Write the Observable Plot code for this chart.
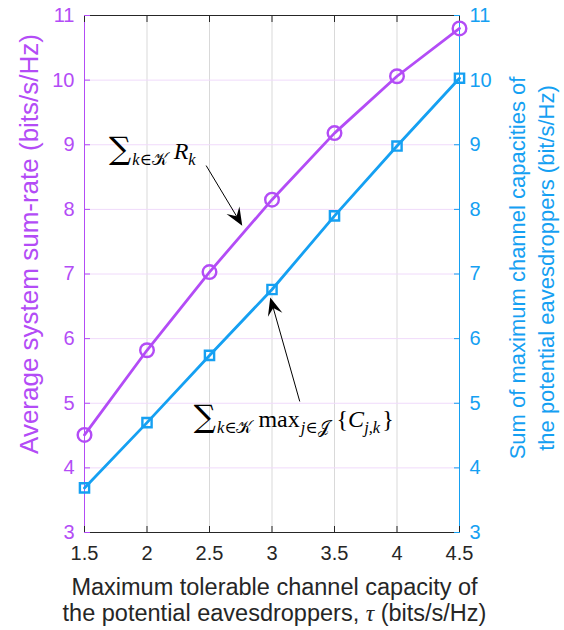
<!DOCTYPE html>
<html><head><meta charset="utf-8">
<script src="https://cdn.jsdelivr.net/npm/d3@7"></script>
<script src="https://cdn.jsdelivr.net/npm/@observablehq/plot@0.6"></script>
<style>body{margin:0;background:#fff}#chart{width:564px;height:630px}</style>
</head><body><div id="chart"></div>
<script>
// ---- data ----
const tau = [1.5, 2, 2.5, 3, 3.5, 4, 4.5];
const sumRate = [4.51, 5.82, 7.03, 8.15, 9.18, 10.06, 10.80];
const sumCap = [3.69, 4.70, 5.74, 6.76, 7.90, 8.98, 10.03];
const xTicks = [1.5, 2, 2.5, 3, 3.5, 4, 4.5];
const yTicks = [3, 4, 5, 6, 7, 8, 9, 10, 11];
const xLabel = ["Maximum tolerable channel capacity of", "the potential eavesdroppers, ", "τ", " (bits/s/Hz)"];
const yLeftLabel = "Average system sum-rate (bits/s/Hz)";
const yRightLabel = ["Sum of maximum channel capacities of", "the potential eavesdroppers (bit/s/Hz)"];
// annotation anchors (data units): label start, arrow tail, arrow tip
const annLabelX = [1.70, 2.378];
const annLabelY = [8.77, 4.62];
const annTailX = [2.477, 3.226];
const annTailY = [8.67, 5.02];
const annTipX = [2.766, 2.99];
const annTipY = [7.74, 6.63];

const purple = "#b34cf6", blue = "#15a0f2", dark = "#262626";
const rows = tau.map((t, i) => ({tau: t, rate: sumRate[i], cap: sumCap[i]}));

function arrowHead(g, p1, p2) {
  const dx = p2[0] - p1[0], dy = p2[1] - p1[1], len = Math.hypot(dx, dy);
  const ux = dx / len, uy = dy / len, nx = -uy, ny = ux;
  const L = 18, W = 7.5, N = 11;
  const notch = [p2[0] - N * ux, p2[1] - N * uy];
  g.append("line").attr("x1", p1[0]).attr("y1", p1[1]).attr("x2", notch[0]).attr("y2", notch[1])
    .attr("stroke", "#000").attr("stroke-width", 1);
  const pts = [p2, [p2[0] - L * ux + W * nx, p2[1] - L * uy + W * ny], notch, [p2[0] - L * ux - W * nx, p2[1] - L * uy - W * ny]];
  g.append("path").attr("d", "M" + pts.map(p => p.join(",")).join("L") + "Z").attr("fill", "#000");
}

function mathLabel(g, px, py, parts) {
  const t = g.append("text").attr("x", px).attr("y", py).attr("text-anchor", "start")
    .attr("font-family", "'Liberation Serif','DejaVu Serif',serif").attr("fill", "#000");
  let base = 0;
  for (const [str, opts] of parts) {
    const s = t.append("tspan").text(str);
    const off = opts.sub ? 6 : 0;
    s.attr("dy", off - base); base = off;
    if (opts.dx) s.attr("dx", opts.dx);
    s.attr("font-size", opts.size || (opts.sub ? 16.5 : 24));
    if (opts.italic) s.attr("font-style", "italic");
    if (opts.family) s.attr("font-family", opts.family);
  }
}

function annotations(index, scales, values, dims) {
  const {x, y} = scales;
  const g = d3.create("svg:g");
  for (let i = 0; i < 2; i++) {
    arrowHead(g, [x(annTailX[i]), y(annTailY[i])], [x(annTipX[i]), y(annTipY[i])]);
  }
  const script = "'DejaVu Sans','DejaVu Serif',serif";
  const sigma = {size: 31, family: "'DejaVu Serif',serif"};
  mathLabel(g, x(annLabelX[0]), y(annLabelY[0]), [
    ["∑", sigma],
    ["k∈", {sub: true, italic: true, dx: 1}], ["𝒦", {sub: true, family: script}],
    ["R", {italic: true, dx: 6}], ["k", {sub: true, italic: true}]
  ]);
  mathLabel(g, x(annLabelX[1]), y(annLabelY[1]), [
    ["∑", sigma],
    ["k∈", {sub: true, italic: true, dx: 1}], ["𝒦", {sub: true, family: script}],
    ["max", {dx: 6}], ["j∈", {sub: true, italic: true, dx: 1}], ["𝒥", {sub: true, family: script}],
    ["{", {dx: 7}], ["C", {italic: true}], ["j,k", {sub: true, italic: true}], ["}", {dx: 2}]
  ]);
  return g.node();
}

function axisLabels(index, scales, values, dims) {
  const {x, y} = scales;
  const g = d3.create("svg:g").attr("font-family", "'Liberation Sans',Arial,sans-serif");
  const cx = (x(xTicks[0]) + x(xTicks[xTicks.length - 1])) / 2 + 3;
  const xl = g.append("g").attr("font-size", 23.5).attr("fill", dark).attr("text-anchor", "middle");
  xl.append("text").attr("x", cx).attr("y", dims.height - 35).text(xLabel[0]);
  const l2 = xl.append("text").attr("x", cx).attr("y", dims.height - 9);
  l2.append("tspan").text(xLabel[1]);
  l2.append("tspan").text(xLabel[2]).attr("font-family", "'Liberation Serif',serif").attr("font-style", "italic");
  l2.append("tspan").text(xLabel[3]);
  g.append("text").attr("font-size", 26).attr("transform", `translate(38,244) rotate(-90)`).attr("text-anchor", "middle").attr("fill", purple).text(yLeftLabel);
  g.append("text").attr("font-size", 22).attr("transform", `translate(525,268) rotate(-90)`).attr("text-anchor", "middle").attr("fill", blue).text(yRightLabel[0]);
  g.append("text").attr("font-size", 22).attr("transform", `translate(554,268) rotate(-90)`).attr("text-anchor", "middle").attr("fill", blue).text(yRightLabel[1]);
  return g.node();
}

const fmt = d => `${d}`;
const chart = Plot.plot({
  width: 564, height: 630,
  marginLeft: 84, marginRight: 105, marginTop: 15, marginBottom: 98,
  style: {fontFamily: "'Liberation Sans',Arial,sans-serif", background: "#fff"},
  x: {domain: [1.5, 4.5]},
  y: {domain: [3, 11]},
  marks: [
    Plot.gridX(xTicks, {stroke: "#d9d9d9", strokeOpacity: 1}),
    Plot.gridY(yTicks, {stroke: "#f0dafb", strokeOpacity: 1}),
    Plot.ruleY([11], {stroke: dark}),
    Plot.ruleY([3], {stroke: dark}),
    Plot.ruleX([1.5], {stroke: purple}),
    Plot.ruleX([4.5], {stroke: blue}),
    Plot.axisX(xTicks, {anchor: "bottom", tickSize: -6, tickPadding: 19, fontSize: 20, color: dark, label: null, tickFormat: fmt}),
    Plot.axisX(xTicks, {anchor: "top", tickSize: -6, tickFormat: () => "", color: dark, label: null}),
    Plot.axisY(yTicks, {anchor: "left", tickSize: -6, tickPadding: 16, fontSize: 20, color: purple, label: null, tickFormat: fmt}),
    Plot.axisY(yTicks, {anchor: "right", tickSize: -6, tickPadding: 16, fontSize: 20, color: blue, label: null, tickFormat: fmt}),
    Plot.line(rows, {x: "tau", y: "rate", stroke: purple, strokeWidth: 2.8}),
    Plot.line(rows, {x: "tau", y: "cap", stroke: blue, strokeWidth: 2.8}),
    Plot.dot(rows, {x: "tau", y: "rate", r: 6.8, stroke: purple, strokeWidth: 2.4, fill: "none"}),
    Plot.dot(rows, {x: "tau", y: "cap", symbol: "square", r: 5.2, stroke: blue, strokeWidth: 2.4, fill: "none"}),
    annotations,
    axisLabels
  ]
});
document.getElementById("chart").append(chart);
</script>
</body></html>
